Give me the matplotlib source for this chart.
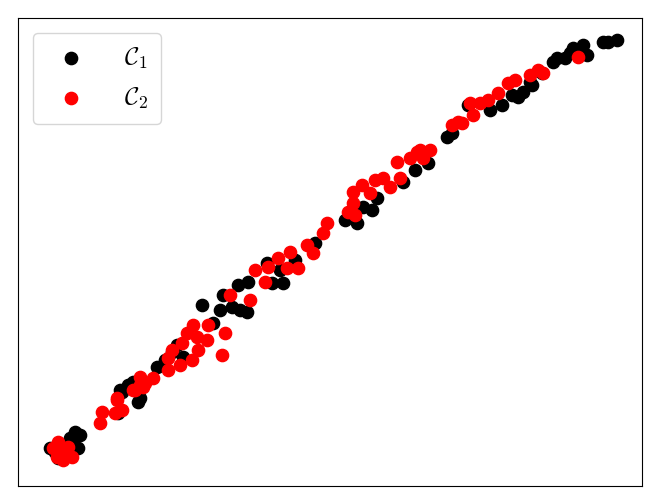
import matplotlib.pyplot as plt

plt.rcParams['mathtext.fontset'] = 'cm'

# points (pixel-like units, y grows downwards)
c1_x = [50, 55, 62, 70, 75, 80, 78, 72, 58, 65,
        118, 122, 128, 138, 120, 128, 140, 133,
        157, 172, 177, 165, 183,
        202, 220, 232, 240, 247, 223, 238, 248, 213,
        267, 272, 283, 280, 295, 315,
        345, 357, 363, 372, 377, 403, 415, 428, 350,
        447, 452, 468, 490, 502, 512, 523, 532, 542, 530, 518,
        553, 557, 570, 573, 583, 587, 580, 603, 608, 617, 565]
c1_y = [448, 452, 452, 438, 432, 435, 448, 443, 458, 445,
        413, 392, 387, 402, 390, 385, 398, 382,
        367, 352, 345, 360, 357,
        305, 310, 307, 310, 312, 295, 285, 282, 323,
        263, 283, 283, 270, 260, 243,
        220, 223, 207, 210, 198, 182, 170, 163, 215,
        137, 133, 105, 110, 105, 95, 92, 85, 73, 82, 97,
        62, 58, 53, 48, 45, 55, 50, 42, 42, 40, 58]

c2_x = [53, 58, 57, 63, 72, 65, 60, 68,
        100, 102, 115, 122, 117, 135, 140, 145, 117, 133, 143, 140,
        153, 168, 168, 180, 192, 182, 187, 193, 197, 198, 207, 208, 222, 225, 172,
        230, 250, 255, 268, 265, 278, 290, 287, 298, 307, 313, 323, 327,
        348, 355, 353, 362, 353, 370, 375, 383, 390, 400, 397, 410, 417, 423, 430, 420,
        452, 462, 473, 480, 488, 498, 508, 515, 530, 538, 543, 578, 470, 458]
c2_y = [448, 442, 457, 460, 457, 452, 450, 447,
        423, 412, 413, 410, 400, 390, 385, 383, 398, 390, 387, 377,
        378, 358, 370, 365, 360, 343, 333, 325, 337, 350, 340, 325, 355, 333, 350,
        295, 300, 270, 267, 282, 258, 252, 268, 268, 245, 253, 233, 223,
        212, 215, 203, 185, 192, 193, 180, 178, 187, 178, 162, 158, 152, 158, 150, 150,
        125, 123, 115, 103, 100, 93, 83, 80, 75, 70, 73, 57, 103, 122]

fig = plt.figure(figsize=(6.64, 5.04), dpi=100)
ax = fig.add_axes([18 / 664, 18 / 504, 624 / 664, 468 / 504])

ax.scatter(c1_x, c1_y, s=78, c='black', label=r'$\mathcal{C}_1$')
ax.scatter(c2_x, c2_y, s=78, c='red', label=r'$\mathcal{C}_2$')

ax.set_xlim(18, 642)
ax.set_ylim(486, 18)
ax.set_xticks([])
ax.set_yticks([])

ax.legend(loc='upper left', fontsize=18, handletextpad=1.15,
          borderaxespad=0.6, labelspacing=0.6, borderpad=0.5)

plt.savefig('out.png')
